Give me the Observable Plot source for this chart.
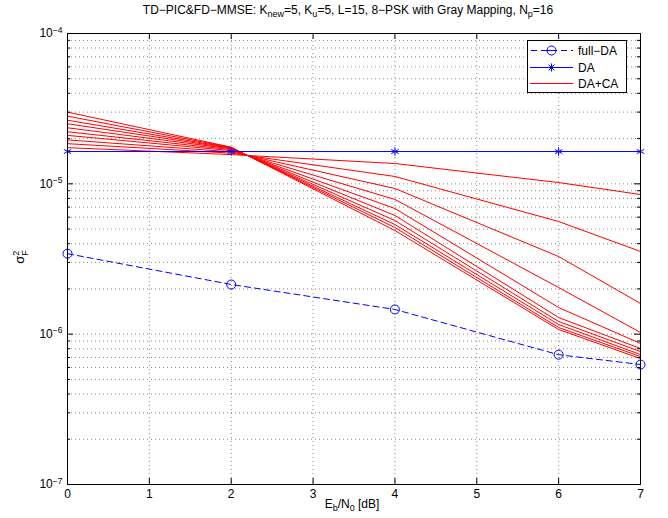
<!DOCTYPE html>
<html><head><meta charset="utf-8">
<script src="https://cdn.jsdelivr.net/npm/d3@7"></script>
<script src="https://cdn.jsdelivr.net/npm/@observablehq/plot@0.6"></script>
<style>
body{margin:0;background:#fff;font-family:"Liberation Sans",Arial,Helvetica,sans-serif;}
#wrap{position:relative;width:668px;height:518px;}
#title{position:absolute;top:3px;left:58px;width:580px;text-align:center;font-size:12px;color:#000;white-space:nowrap;}
#title sub{font-size:9px;vertical-align:-3px;line-height:0;}
#xlabel{position:absolute;top:497px;left:252px;width:200px;text-align:center;font-size:12px;}
#xlabel sub{font-size:9px;vertical-align:-3px;line-height:0;}
#legend{position:absolute;left:527px;top:40px;}
</style>
</head><body>
<div id="wrap">
<div id="chart"></div>
<div id="title">TD&minus;PIC&amp;FD&minus;MMSE: K<sub>new</sub>=5, K<sub>u</sub>=5, L=15, 8&minus;PSK with Gray Mapping, N<sub>p</sub>=16</div>
<div id="xlabel">E<sub>b</sub>/N<sub>0</sub> [dB]</div>
<div id="legend"></div>
</div>
<script>
// ---- data ----
const snr = [0, 2, 4, 6, 7];
const fullDA = [3.43e-6, 2.14e-6, 1.46e-6, 7.3e-7, 6.28e-7];
const DA = [1.64e-5, 1.64e-5, 1.64e-5, 1.64e-5, 1.64e-5];
const daca1  = [3.00e-5, 1.753e-5, 4.89e-6, 1.074e-6, 6.88e-7];
const daca2  = [2.82e-5, 1.745e-5, 5.12e-6, 1.107e-6, 7.10e-7];
const daca3  = [2.65e-5, 1.736e-5, 5.36e-6, 1.159e-6, 7.32e-7];
const daca4  = [2.51e-5, 1.724e-5, 5.70e-6, 1.214e-6, 7.66e-7];
const daca5  = [2.36e-5, 1.710e-5, 6.16e-6, 1.290e-6, 8.03e-7];
const daca6  = [2.22e-5, 1.689e-5, 6.85e-6, 1.504e-6, 8.67e-7];
const daca7  = [2.10e-5, 1.663e-5, 7.87e-6, 2.043e-6, 1.026e-6];
const daca8  = [1.96e-5, 1.633e-5, 9.31e-6, 3.284e-6, 1.600e-6];
const daca9  = [1.85e-5, 1.600e-5, 1.119e-5, 5.616e-6, 3.548e-6];
const daca10 = [1.74e-5, 1.565e-5, 1.365e-5, 1.020e-5, 8.49e-6];
const dacaSeries = [daca1, daca2, daca3, daca4, daca5, daca6, daca7, daca8, daca9, daca10];
const xTicks = [0, 1, 2, 3, 4, 5, 6, 7];
const yDecades = [1e-7, 1e-6, 1e-5, 1e-4];
const yTickExponents = ["\u22127", "\u22126", "\u22125", "\u22124"];
const minorMult = [2, 3, 4, 5, 6, 7, 8, 9];
const legendLabels = ["full\u2212DA", "DA", "DA+CA"];

// ---- derived tables ----
const yMinor = yDecades.slice(0, 3).flatMap(d => minorMult.map(m => d * m));
const yGrid = yDecades.concat(yMinor);
const dacaRows = dacaSeries.flatMap((s, i) => s.map((v, j) => ({x: snr[j], y: v, s: i})));
const fullRows = snr.map((x, i) => ({x, y: fullDA[i]}));
const daRows = snr.map((x, i) => ({x, y: DA[i]}));

const W = 668, H = 518, mL = 67, mR = 28, mT = 33, mB = 34;
const pw = W - mL - mR, ph = H - mT - mB;
const blue = "#0000ff", red = "#ff0000";
const gridStyle = {stroke: "#888", strokeDasharray: "1,3", strokeWidth: 1};

const chart = Plot.plot({
  width: W, height: H,
  marginLeft: mL, marginRight: mR, marginTop: mT, marginBottom: mB,
  style: {fontFamily: "Liberation Sans, Arial, sans-serif", fontSize: "12px", background: "#fff", color: "#000"},
  x: {domain: [0, 7], label: null},
  y: {type: "log", domain: [1e-7, 1e-4], label: null},
  marks: [
    Plot.ruleX(xTicks.slice(1, -1), {x: d => d, ...gridStyle}),
    Plot.ruleY(yGrid.filter(d => d > 1e-7 && d < 1e-4), {y: d => d, ...gridStyle}),
    Plot.line(dacaRows, {x: "x", y: "y", z: "s", stroke: red, strokeWidth: 1}),
    Plot.line(daRows, {x: "x", y: "y", stroke: blue, strokeWidth: 1}),
    Plot.dot(daRows, {x: "x", y: "y", symbol: "asterisk", r: 4, stroke: blue, strokeWidth: 1}),
    Plot.line(fullRows, {x: "x", y: "y", stroke: blue, strokeWidth: 1, strokeDasharray: "6,4"}),
    Plot.dot(fullRows, {x: "x", y: "y", symbol: "circle", r: 4.5, stroke: blue, fill: "none", strokeWidth: 1}),
    Plot.frame({stroke: "#000", strokeWidth: 1}),
    // inward ticks
    Plot.tickX(xTicks, {x: d => d, insetTop: ph - 6, stroke: "#000"}),
    Plot.tickX(xTicks, {x: d => d, insetBottom: ph - 6, stroke: "#000"}),
    Plot.tickY(yDecades, {y: d => d, insetRight: pw - 6, stroke: "#000"}),
    Plot.tickY(yDecades, {y: d => d, insetLeft: pw - 6, stroke: "#000"}),
    Plot.tickY(yMinor, {y: d => d, insetRight: pw - 3, stroke: "#000"}),
    Plot.tickY(yMinor, {y: d => d, insetLeft: pw - 3, stroke: "#000"}),
    Plot.axisX(xTicks, {tickSize: 0, tickPadding: 5, label: null, fontSize: 12}),
    Plot.axisY(yDecades, {tickSize: 0, tickPadding: 5, label: null, fontSize: 12,
      tickFormat: d => "10|" + yTickExponents[yDecades.indexOf(d)]})
  ]
});
document.getElementById("chart").appendChild(chart);

const svg = d3.select(chart);
// superscripted y tick labels
svg.selectAll('g[aria-label="y-axis tick label"] text').each(function() {
  const t = d3.select(this);
  const parts = t.text().split("|");
  t.text(null);
  t.append("tspan").text(parts[0]);
  t.append("tspan").attr("font-size", 8.5).attr("dy", "-0.55em").text(parts[1]);
});

// y-axis label sigma_F^2
const yl = svg.append("text")
  .attr("transform", "translate(24,257) rotate(-90)")
  .attr("text-anchor", "middle")
  .attr("font-size", 13)
  .attr("font-family", "Liberation Sans, Arial, sans-serif");
yl.append("tspan").text("\u03C3");
yl.append("tspan").attr("font-size", 9).attr("dy", -5).text("2");
yl.append("tspan").attr("font-size", 9).attr("dx", -5).attr("dy", 9).text("F");

// legend
const lg = d3.select("#legend").append("svg").attr("width", 101).attr("height", 55);
lg.append("rect").attr("x", 0.5).attr("y", 0.5).attr("width", 99).attr("height", 52)
  .attr("fill", "#fff").attr("stroke", "#000");
const rows = [10, 27, 43];
// full-DA
lg.append("line").attr("x1", 3).attr("x2", 46).attr("y1", rows[0] + 0.5).attr("y2", rows[0] + 0.5)
  .attr("stroke", blue).attr("stroke-dasharray", "6,4").attr("stroke-dashoffset", -1);
lg.append("circle").attr("cx", 24.5).attr("cy", rows[0] + 0.5).attr("r", 4.5).attr("fill", "#fff").attr("stroke", blue);
lg.append("line").attr("x1", 20).attr("x2", 29).attr("y1", rows[0] + 0.5).attr("y2", rows[0] + 0.5).attr("stroke", blue);
// DA
lg.append("line").attr("x1", 3).attr("x2", 46).attr("y1", rows[1] + 0.5).attr("y2", rows[1] + 0.5).attr("stroke", blue);
for (const a of [0, 45, 90, 135]) {
  const r = 4, t = a * Math.PI / 180;
  lg.append("line").attr("x1", 24.5 - r * Math.cos(t)).attr("x2", 24.5 + r * Math.cos(t))
    .attr("y1", rows[1] + 0.5 - r * Math.sin(t)).attr("y2", rows[1] + 0.5 + r * Math.sin(t)).attr("stroke", blue);
}
// DA+CA
lg.append("line").attr("x1", 3).attr("x2", 46).attr("y1", rows[2] + 0.5).attr("y2", rows[2] + 0.5).attr("stroke", red);
legendLabels.forEach((t, i) => {
  lg.append("text").attr("x", 51).attr("y", rows[i] + 4.5).attr("font-size", 12)
    .attr("font-family", "Liberation Sans, Arial, sans-serif").text(t);
});
</script>
</body></html>
